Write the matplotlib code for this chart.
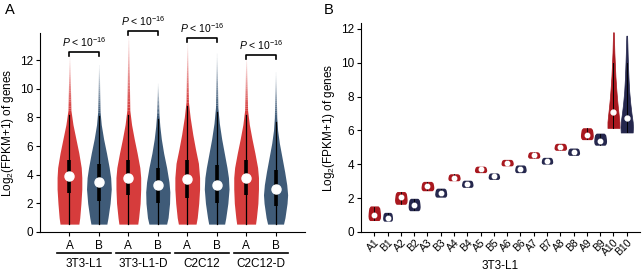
import numpy as np
import matplotlib
matplotlib.use("Agg")
import matplotlib.pyplot as plt
import matplotlib.transforms as mtransforms

plt.rcParams['font.family'] = ['Liberation Sans', 'DejaVu Sans']
plt.rcParams['mathtext.fontset'] = 'custom'
plt.rcParams['mathtext.rm'] = 'Liberation Sans'
plt.rcParams['mathtext.it'] = 'Liberation Sans:italic'

# ---------------- Panel A data ----------------
groups_A = ["3T3-L1", "3T3-L1-D", "C2C12", "C2C12-D"]
sub_labels_A = ["A", "B"]
# per violin: median, Q1, Q3, bottom, top of body, top of tail
med_A = [3.9, 3.5, 3.8, 3.3, 3.7, 3.3, 3.8, 3.0]
q1_A = [2.7, 2.2, 2.6, 2.0, 2.4, 2.0, 2.6, 1.8]
q3_A = [5.0, 4.75, 5.0, 4.5, 5.0, 4.7, 5.0, 4.3]
bottom_A = [0.55] * 8
tailmax_A = [12.3, 11.7, 13.8, 10.4, 13.2, 12.5, 12.2, 11.2]
# body outline: y levels and half widths
prof_y_A = [
    [0.55, 1.0, 2.0, 3.0, 3.8, 4.5, 5.5, 6.5, 7.5, 8.5],
    [0.55, 1.0, 2.0, 3.0, 3.8, 4.5, 5.5, 6.5, 7.5, 8.4],
    [0.55, 1.0, 2.0, 3.0, 3.8, 4.5, 5.5, 6.5, 7.5, 8.5],
    [0.55, 1.0, 2.0, 2.8, 3.5, 4.5, 5.5, 6.5, 7.4, 8.2],
    [0.55, 1.0, 2.0, 3.0, 3.8, 4.8, 5.8, 6.8, 8.0, 9.1],
    [0.55, 1.0, 2.0, 3.0, 3.8, 4.5, 5.5, 6.5, 7.6, 8.7],
    [0.55, 1.0, 2.0, 3.0, 3.8, 4.5, 5.5, 6.5, 7.5, 8.5],
    [0.55, 1.0, 2.0, 2.6, 3.3, 4.2, 5.2, 6.2, 7.1, 8.0],
]
prof_w_A = [
    [0.32, 0.35, 0.39, 0.42, 0.42, 0.40, 0.32, 0.22, 0.12, 0.05],
    [0.27, 0.31, 0.38, 0.42, 0.40, 0.35, 0.26, 0.16, 0.08, 0.04],
    [0.32, 0.35, 0.40, 0.42, 0.42, 0.39, 0.30, 0.20, 0.11, 0.05],
    [0.30, 0.35, 0.40, 0.41, 0.38, 0.30, 0.20, 0.12, 0.07, 0.04],
    [0.30, 0.34, 0.39, 0.42, 0.42, 0.38, 0.28, 0.19, 0.10, 0.04],
    [0.27, 0.31, 0.38, 0.42, 0.40, 0.35, 0.26, 0.17, 0.09, 0.04],
    [0.32, 0.35, 0.40, 0.42, 0.42, 0.39, 0.30, 0.20, 0.11, 0.05],
    [0.27, 0.32, 0.39, 0.41, 0.38, 0.31, 0.22, 0.13, 0.07, 0.04],
]
bracket_y_A = [12.6, 14.05, 13.55, 12.35]
p_text = r"$P$ < 10$^{-16}$"

# ---------------- Panel B data ----------------
labels_B = ["A1", "B1", "A2", "B2", "A3", "B3", "A4", "B4", "A5", "B5",
            "A6", "B6", "A7", "B7", "A8", "B8", "A9", "B9", "A10", "B10"]
med_B = [1.0, 0.85, 2.05, 1.6, 2.7, 2.3, 3.2, 2.85, 3.7, 3.3,
         4.1, 3.75, 4.55, 4.2, 5.05, 4.75, 5.75, 5.4, 7.1, 6.75]
lo_B = [0.72, 0.68, 1.68, 1.3, 2.48, 2.1, 3.07, 2.68, 3.55, 3.15,
        3.95, 3.55, 4.4, 4.05, 4.87, 4.57, 5.5, 5.17, 6.15, 5.88]
hi_B = [1.5, 1.12, 2.35, 1.95, 2.95, 2.55, 3.4, 3.02, 3.85, 3.45,
        4.25, 3.92, 4.7, 4.37, 5.2, 4.92, 6.12, 5.8, 11.8, 11.6]
hw_B = [0.42, 0.32, 0.42, 0.40, 0.43, 0.40, 0.41, 0.38, 0.41, 0.38,
        0.41, 0.38, 0.41, 0.38, 0.42, 0.40, 0.43, 0.43, 0.45, 0.47]
# normalized outline for the small violins
small_rel_y = [0.0, 0.12, 0.3, 0.5, 0.7, 0.88, 1.0]
small_rel_w = [0.80, 0.95, 1.0, 0.97, 0.92, 0.85, 0.65]
# outline for the two tall violins (A10, B10)
tall_y = [
    [6.15, 6.5, 6.9, 7.4, 7.9, 8.5, 9.2, 9.9, 10.6, 11.2, 11.8],
    [5.88, 6.2, 6.5, 7.0, 7.6, 8.3, 9.0, 9.8, 10.5, 11.1, 11.6],
]
tall_w = [
    [0.45, 0.45, 0.40, 0.33, 0.27, 0.21, 0.15, 0.11, 0.07, 0.05, 0.03],
    [0.45, 0.47, 0.45, 0.36, 0.27, 0.19, 0.14, 0.10, 0.07, 0.05, 0.03],
]

red_A, blue_A = "#d63c3c", "#3f5b78"
red_B, blue_B = "#a9181f", "#25274d"

fig = plt.figure(figsize=(6.43, 2.74), dpi=100)
axA = fig.add_axes([40/643, 1-232/274, 265/643, 199/274])
axB = fig.add_axes([361/643, 1-232/274, 279/643, 209/274])

# ---------------- draw panel A ----------------
posA = np.arange(1, 9)
for i, x in enumerate(posA):
    col = red_A if i % 2 == 0 else blue_A
    ys = np.array(prof_y_A[i])
    ws = np.array(prof_w_A[i])
    axA.fill_betweenx(ys, x - ws, x + ws, color=col, lw=0, zorder=2)
    # fading tail
    ty = np.linspace(ys[-1], tailmax_A[i], 25)
    tw = np.linspace(ws[-1], 0.012, 25)
    for k in range(len(ty) - 1):
        a = 1.0 - k / (len(ty) - 1)
        axA.fill_betweenx([ty[k], ty[k+1]], [x - tw[k], x - tw[k+1]],
                          [x + tw[k], x + tw[k+1]], color=col, lw=0,
                          alpha=max(a, 0.08), zorder=2)
    # whisker, box, median
    axA.plot([x, x], [bottom_A[i], ys[-1] - 0.3], color="black", lw=0.9, zorder=3)
    axA.plot([x, x], [q1_A[i], q3_A[i]], color="black", lw=2.6,
             solid_capstyle="butt", zorder=4)
    axA.plot([x], [med_A[i]], "o", ms=6.5, mfc="white", mec="white", zorder=5)

for g in range(4):
    x1, x2 = posA[2*g], posA[2*g+1]
    yb = bracket_y_A[g]
    axA.plot([x1, x1, x2, x2], [yb - 0.3, yb, yb, yb - 0.3], color="black",
             lw=1.2, clip_on=False, zorder=6)
    axA.text((x1 + x2) / 2, yb + 0.2, p_text, ha="center", va="bottom",
             fontsize=7.5, clip_on=False)

axA.set_xlim(0, 9)
axA.set_ylim(0, 13.9)
axA.set_yticks([0, 2, 4, 6, 8, 10, 12])
axA.set_xticks(posA)
axA.set_xticklabels(sub_labels_A * 4)
axA.spines[["top", "right"]].set_visible(False)
axA.tick_params(direction="out", length=3, width=0.8, labelsize=8.5, pad=2)
axA.tick_params(axis="x", pad=3)
axA.set_ylabel("Log$_2$(FPKM+1) of genes", fontsize=8.5, labelpad=3)
trA = mtransforms.blended_transform_factory(axA.transData, axA.transAxes)
for g in range(4):
    x1, x2 = posA[2*g], posA[2*g+1]
    axA.plot([x1 - 0.42, x2 + 0.42], [-0.107, -0.107], color="black", lw=1.2,
             transform=trA, clip_on=False)
    axA.text((x1 + x2) / 2, -0.16, groups_A[g], transform=trA, ha="center",
             va="center", fontsize=8.5)

# ---------------- draw panel B ----------------
posB = np.arange(1, 21)
for i, x in enumerate(posB):
    col = red_B if i % 2 == 0 else blue_B
    if i < 18:
        ys = lo_B[i] + np.array(small_rel_y) * (hi_B[i] - lo_B[i])
        ws = np.array(small_rel_w) * hw_B[i]
        axB.fill_betweenx(ys, x - ws, x + ws, color=col, ec=col, lw=1.0,
                          joinstyle="round", zorder=2)
        axB.plot([x, x], [lo_B[i], hi_B[i]], color="black", lw=0.6, zorder=3)
        axB.plot([x], [med_B[i]], "o", ms=3.2, mfc="white", mec="white", zorder=5)
    else:
        j = i - 18
        ys = np.array(tall_y[j])
        ws = np.array(tall_w[j])
        axB.fill_betweenx(ys, x - ws, x + ws, color=col, ec=col, lw=0.5, zorder=2)
        axB.plot([x, x], [lo_B[i], 10.0], color="black", lw=0.7, zorder=3)
        axB.plot([x], [med_B[i]], "o", ms=3.5, mfc="white", mec="white", zorder=5)

axB.set_xlim(0, 21)
axB.set_ylim(0, 12.35)
axB.set_yticks([0, 2, 4, 6, 8, 10, 12])
axB.set_xticks(posB)
axB.set_xticklabels(labels_B, rotation=45, ha="right", rotation_mode="anchor")
axB.spines[["top", "right"]].set_visible(False)
axB.tick_params(direction="out", length=3, width=0.8, labelsize=8.5, pad=2)
axB.tick_params(axis="x", labelsize=7.5, pad=1)
axB.set_ylabel("Log$_2$(FPKM+1) of genes", fontsize=8.5, labelpad=3)
axB.set_xlabel("3T3-L1", fontsize=8.5, labelpad=2)

fig.text(5/643, 1-10/274, "A", fontsize=10.5, va="center", ha="left")
fig.text(324/643, 1-10/274, "B", fontsize=10.5, va="center", ha="left")

fig.savefig("out.png", dpi=100)
